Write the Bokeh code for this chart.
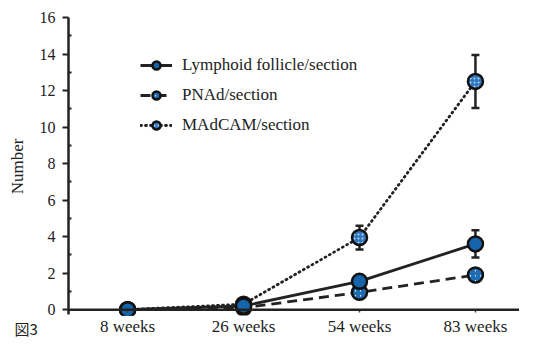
from bokeh.plotting import figure
from bokeh.models import (ColumnDataSource, Range1d, FixedTicker, Whisker, TeeHead,
                          Legend, LegendItem, Span, Title)
from bokeh.embed import file_html
from bokeh.resources import INLINE

categories = ["8 weeks", "26 weeks", "54 weeks", "83 weeks"]
lymphoid = [0.0, 0.2, 1.55, 3.6]
lymphoid_err = [0.0, 0.0, 0.35, 0.75]
pnad = [0.0, 0.1, 0.95, 1.9]
pnad_err = [0.0, 0.0, 0.0, 0.0]
madcam = [0.0, 0.3, 3.95, 12.5]
madcam_err = [0.0, 0.0, 0.65, 1.45]
y_ticks = [0, 2, 4, 6, 8, 10, 12, 14, 16]

SERIF = "Liberation Serif"
xs = list(range(len(categories)))

p = figure(width=519, height=338, output_backend="svg", toolbar_location=None,
           x_range=Range1d(-0.51, 3.38), y_range=Range1d(-0.32, 16),
           min_border_left=68, min_border_right=0, min_border_top=17, min_border_bottom=0)
p.outline_line_color = None
p.xgrid.grid_line_color = None
p.ygrid.grid_line_color = None
p.background_fill_color = "white"
p.border_fill_color = "white"

# axes
ya = p.yaxis[0]
ya.ticker = FixedTicker(ticks=y_ticks, minor_ticks=[v + 1 for v in y_ticks[:-1]])
ya.bounds = (-0.25, 16)
ya.axis_line_width = 2.5
ya.axis_line_color = "#222222"
ya.major_tick_line_width = 2
ya.major_tick_line_color = "#222222"
ya.major_tick_out = 6
ya.major_tick_in = 0
ya.minor_tick_in = 3
ya.minor_tick_out = 0
ya.minor_tick_line_width = 2
ya.minor_tick_line_color = "#222222"
ya.major_label_text_font = SERIF
ya.major_label_text_font_size = "16px"
ya.major_label_text_color = "#222222"
ya.major_label_standoff = 7
ya.axis_label = "Number"
ya.axis_label_text_font = SERIF
ya.axis_label_text_font_style = "normal"
ya.axis_label_text_font_size = "17px"
ya.axis_label_text_color = "#222222"
ya.axis_label_standoff = 10

xa = p.xaxis[0]
xa.ticker = FixedTicker(ticks=xs)
xa.major_label_overrides = {i: c for i, c in enumerate(categories)}
xa.axis_line_color = None
xa.major_tick_in = 6
xa.major_tick_out = -3
xa.major_tick_line_width = 1.5
xa.major_tick_line_color = "#444444"
xa.minor_tick_line_color = None
xa.major_label_text_font = SERIF
xa.major_label_text_font_size = "17px"
xa.major_label_text_color = "#222222"
xa.major_label_standoff = 1

# x-axis baseline at zero
p.add_layout(Span(location=0, dimension="width", line_width=2.5, line_color="#222222"))

# figure caption at lower left
p.add_layout(Title(text="図3", align="left", vertical_align="top", offset=-54, standoff=-42,
                   text_font="Noto Sans CJK JP", text_font_size="15px",
                   text_font_style="normal", text_color="#222222"), "below")


def err_source(vals, errs):
    d = dict(x=[], upper=[], lower=[])
    for x, v, e in zip(xs, vals, errs):
        if e > 0:
            d["x"].append(x)
            d["upper"].append(v + e)
            d["lower"].append(v - e)
    return ColumnDataSource(d)


for vals, errs in [(lymphoid, lymphoid_err), (madcam, madcam_err), (pnad, pnad_err)]:
    src = err_source(vals, errs)
    if len(src.data["x"]):
        p.add_layout(Whisker(source=src, base="x", upper="upper", lower="lower",
                             dimension="height", line_width=2.5, line_color="#222222",
                             upper_head=TeeHead(size=8, line_width=2.5, line_color="#222222"),
                             lower_head=TeeHead(size=8, line_width=2.5, line_color="#222222")))

# lines
l_pn = p.line(xs, pnad, line_color="#222222", line_width=2.8, line_dash="10 6")
l_md = p.line(xs, madcam, line_color="#222222", line_width=2.8, line_dash="1 4",
              line_cap="round")
l_ly = p.line(xs, lymphoid, line_color="#222222", line_width=2.8)

# markers
m_pn = p.scatter(xs, pnad, marker="circle", size=15, line_color="#111111", line_width=2.5,
                 fill_color="white", hatch_pattern="right_diagonal_line",
                 hatch_color="#1f6db5", hatch_scale=5, hatch_weight=2.4)
m_md = p.scatter(xs, madcam, marker="circle", size=15, line_color="#111111", line_width=2.5,
                 fill_color="#2f78c0", hatch_pattern="dot", hatch_color="#b5d6f2",
                 hatch_scale=4, hatch_weight=1.5)
m_ly = p.scatter(xs, lymphoid, marker="circle", size=15, line_color="#111111", line_width=2.5,
                 fill_color="#1565ad")

legend = Legend(items=[
    LegendItem(label="Lymphoid follicle/section", renderers=[l_ly, m_ly]),
    LegendItem(label="PNAd/section", renderers=[l_pn, m_pn]),
    LegendItem(label="MAdCAM/section", renderers=[l_md, m_md]),
], location=(72, 180))
legend.border_line_color = None
legend.background_fill_alpha = 0
legend.padding = 0
legend.margin = 0
legend.spacing = 10
legend.glyph_width = 32
legend.glyph_height = 20
legend.label_height = 20
legend.label_standoff = 10
legend.label_text_font = SERIF
legend.label_text_font_size = "17px"
legend.label_text_color = "#222222"
p.add_layout(legend)

open("out.html", "w").write(file_html(p, INLINE))
